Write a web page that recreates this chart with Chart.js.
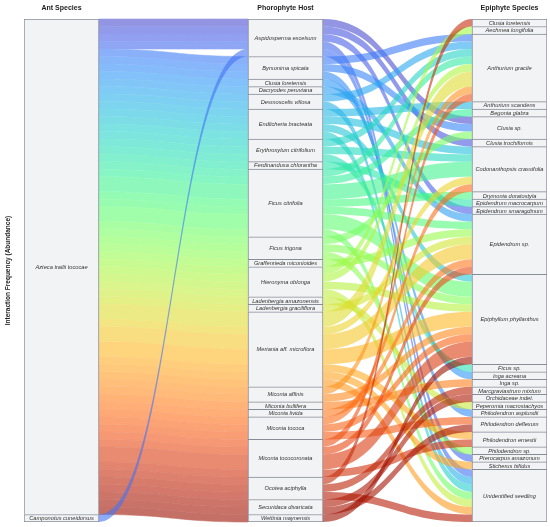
<!DOCTYPE html>
<html>
<head>
<meta charset="utf-8">
<script src="https://cdn.jsdelivr.net/npm/chart.js@4.4.1/dist/chart.umd.min.js"></script>
<style>
  html, body { margin: 0; padding: 0; background: #fff; }
  #wrap { width: 550px; height: 527px; }
</style>
</head>
<body>
<div id="wrap"><canvas id="chart"></canvas></div>
<script>
// Column titles
const columnTitles = ['Ant Species', 'Phorophyte Host', 'Epiphyte Species'];

// Strata, top to bottom
const antSpecies = ['Azteca trailii tococae', 'Camponotus cuneidorsus'];

const hostSpecies = [
  'Aspidosperma excelsum', 'Byrsonima spicata', 'Clusia loretensis', 'Dacryodes peruviana',
  'Desmoscelis villosa', 'Endlicheria bracteata', 'Erythroxylum citrifolium', 'Ferdinandusa chlorantha',
  'Ficus citrifolia', 'Ficus trigona', 'Graffenrieda miconioides', 'Hieronyma oblonga',
  'Ladenbergia amazonensis', 'Ladenbergia graciliflora', 'Meriania aff. microflora', 'Miconia affinis',
  'Miconia bullifera', 'Miconia livida', 'Miconia tococa', 'Miconia tococoronata',
  'Ocotea aciphylla', 'Securidaca divaricata', 'Wettinia maynensis'
];

const epiphyteSpecies = [
  'Clusia loretensis', 'Aechmea longifolia', 'Anthurium gracile', 'Anthurium scandens',
  'Begonia glabra', 'Clusia sp.', 'Clusia trochiformis', 'Codonanthopsis crassifolia',
  'Drymonia doratostyla', 'Epidendrum macrocarpum', 'Epidendrum smaragdinum', 'Epidendrum sp.',
  'Epiphyllum phyllanthus', 'Ficus sp.', 'Inga acreana', 'Inga sp.',
  'Marcgraviastrum mixtum', 'Orchidaceae indet.', 'Peperomia macrostachyos', 'Philodendron asplundii',
  'Philodendron deflexum', 'Philodendron ernestii', 'Philodendron sp.', 'Pterocarpus amazonum',
  'Sticherus bifidus', 'Unidentified seedling'
];

// Interactions: [ant, host, epiphyte, abundance]
const AZ = 'Azteca trailii tococae';
const CC = 'Camponotus cuneidorsus';
const alluvia = [
  [AZ, 'Aspidosperma excelsum', 'Clusia sp.', 1],
  [AZ, 'Aspidosperma excelsum', 'Clusia trochiformis', 1],
  [AZ, 'Aspidosperma excelsum', 'Epidendrum smaragdinum', 1],
  [AZ, 'Aspidosperma excelsum', 'Pterocarpus amazonum', 1],
  [CC, 'Aspidosperma excelsum', 'Unidentified seedling', 1],
  [AZ, 'Byrsonima spicata', 'Anthurium gracile', 1],
  [AZ, 'Byrsonima spicata', 'Clusia sp.', 1],
  [AZ, 'Byrsonima spicata', 'Philodendron asplundii', 1],
  [AZ, 'Clusia loretensis', 'Inga acreana', 1],
  [AZ, 'Dacryodes peruviana', 'Epidendrum sp.', 1],
  [AZ, 'Desmoscelis villosa', 'Anthurium gracile', 1],
  [AZ, 'Desmoscelis villosa', 'Unidentified seedling', 1],
  [AZ, 'Endlicheria bracteata', 'Anthurium scandens', 1],
  [AZ, 'Endlicheria bracteata', 'Codonanthopsis crassifolia', 1],
  [AZ, 'Endlicheria bracteata', 'Epiphyllum phyllanthus', 1],
  [AZ, 'Endlicheria bracteata', 'Unidentified seedling', 1],
  [AZ, 'Erythroxylum citrifolium', 'Anthurium gracile', 1],
  [AZ, 'Erythroxylum citrifolium', 'Codonanthopsis crassifolia', 1],
  [AZ, 'Erythroxylum citrifolium', 'Ficus sp.', 1],
  [AZ, 'Ferdinandusa chlorantha', 'Epidendrum macrocarpum', 1],
  [AZ, 'Ficus citrifolia', 'Anthurium gracile', 1],
  [AZ, 'Ficus citrifolia', 'Begonia glabra', 1],
  [AZ, 'Ficus citrifolia', 'Codonanthopsis crassifolia', 2],
  [AZ, 'Ficus citrifolia', 'Drymonia doratostyla', 1],
  [AZ, 'Ficus citrifolia', 'Epidendrum sp.', 1],
  [AZ, 'Ficus citrifolia', 'Epiphyllum phyllanthus', 2],
  [AZ, 'Ficus citrifolia', 'Unidentified seedling', 1],
  [AZ, 'Ficus trigona', 'Clusia sp.', 1],
  [AZ, 'Ficus trigona', 'Epiphyllum phyllanthus', 1],
  [AZ, 'Ficus trigona', 'Philodendron sp.', 1],
  [AZ, 'Graffenrieda miconioides', 'Epidendrum sp.', 1],
  [AZ, 'Hieronyma oblonga', 'Aechmea longifolia', 1],
  [AZ, 'Hieronyma oblonga', 'Anthurium gracile', 1],
  [AZ, 'Hieronyma oblonga', 'Epiphyllum phyllanthus', 1],
  [AZ, 'Hieronyma oblonga', 'Unidentified seedling', 1],
  [AZ, 'Ladenbergia amazonensis', 'Peperomia macrostachyos', 1],
  [AZ, 'Ladenbergia graciliflora', 'Epidendrum sp.', 1],
  [AZ, 'Meriania aff. microflora', 'Anthurium gracile', 2],
  [AZ, 'Meriania aff. microflora', 'Codonanthopsis crassifolia', 1],
  [AZ, 'Meriania aff. microflora', 'Epidendrum sp.', 2],
  [AZ, 'Meriania aff. microflora', 'Epiphyllum phyllanthus', 2],
  [AZ, 'Meriania aff. microflora', 'Philodendron ernestii', 1],
  [AZ, 'Meriania aff. microflora', 'Sticherus bifidus', 1],
  [AZ, 'Meriania aff. microflora', 'Unidentified seedling', 1],
  [AZ, 'Miconia affinis', 'Anthurium gracile', 1],
  [AZ, 'Miconia affinis', 'Epiphyllum phyllanthus', 1],
  [AZ, 'Miconia bullifera', 'Inga sp.', 1],
  [AZ, 'Miconia livida', 'Epidendrum sp.', 1],
  [AZ, 'Miconia tococa', 'Codonanthopsis crassifolia', 1],
  [AZ, 'Miconia tococa', 'Epiphyllum phyllanthus', 1],
  [AZ, 'Miconia tococa', 'Philodendron deflexum', 1],
  [AZ, 'Miconia tococoronata', 'Anthurium gracile', 1],
  [AZ, 'Miconia tococoronata', 'Epidendrum sp.', 1],
  [AZ, 'Miconia tococoronata', 'Epiphyllum phyllanthus', 2],
  [AZ, 'Miconia tococoronata', 'Philodendron ernestii', 1],
  [AZ, 'Ocotea aciphylla', 'Clusia loretensis', 1],
  [AZ, 'Ocotea aciphylla', 'Marcgraviastrum mixtum', 1],
  [AZ, 'Ocotea aciphylla', 'Unidentified seedling', 1],
  [AZ, 'Securidaca divaricata', 'Orchidaceae indet.', 1],
  [AZ, 'Securidaca divaricata', 'Philodendron deflexum', 1],
  [AZ, 'Wettinia maynensis', 'Epiphyllum phyllanthus', 1]
];

const axes = [antSpecies, hostSpecies, epiphyteSpecies];
const total = alluvia.reduce((sum, a) => sum + a[3], 0);
const boxWidth = 75;
const flowAlpha = 0.6;

// Turbo colour map
function turbo(t) {
  const r = 0.13572138 + t * (4.61539260 + t * (-42.66032258 + t * (132.13108234 + t * (-152.94239396 + t * 59.28637943))));
  const g = 0.09140261 + t * (2.19418839 + t * (4.84296658 + t * (-14.18503333 + t * (4.27729857 + t * 2.82956604))));
  const b = 0.10667330 + t * (12.64194608 + t * (-60.58204836 + t * (110.36276771 + t * (-89.90310912 + t * 27.34824973))));
  const c = v => Math.round(255 * Math.max(0, Math.min(1, v)));
  return [c(r), c(g), c(b)];
}

// Lode positions on each axis
const stratumIndex = (k, a) => axes[k].indexOf(a[k]);
const orderings = [[0, 1, 2], [1, 0, 2], [2, 1, 0]];
const lodes = alluvia.map(() => []);
orderings.forEach((ord, k) => {
  const sorted = alluvia.map((a, i) => i).sort((p, q) => {
    for (const j of ord) {
      const d = stratumIndex(j, alluvia[p]) - stratumIndex(j, alluvia[q]);
      if (d) return d;
    }
    return 0;
  });
  let acc = 0;
  sorted.forEach(i => {
    lodes[i][k] = [acc, acc + alluvia[i][3]];
    acc += alluvia[i][3];
  });
});

const flowRgb = alluvia.map((a, i) => {
  const mid = (lodes[i][1][0] + lodes[i][1][1]) / 2 / total;
  return turbo(0.08 + 0.87 * mid);
});
const flowColors = flowRgb.map(([r, g, b]) => `rgba(${r},${g},${b},${flowAlpha})`);
// same colour already blended on white, for the non-overlapping left flows
const flowSolid = flowRgb.map(rgb => {
  const [r, g, b] = rgb.map(v => Math.round(v * flowAlpha + 255 * (1 - flowAlpha)));
  return `rgb(${r},${g},${b})`;
});

// Boxes for every stratum
const boxes = [];
axes.forEach((names, k) => {
  let acc = 0;
  names.forEach((name, n) => {
    const size = alluvia.filter(a => a[k] === name).reduce((s, a) => s + a[3], 0);
    boxes.push({ x: k + 1, y: [acc, acc + size], name, last: n === names.length - 1 });
    acc += size;
  });
});

function ribbon(ctx, x0, x1, ya0, yb0, ya1, yb1) {
  const cx0 = x0 + (x1 - x0) * 0.5;
  const cx1 = x1 - (x1 - x0) * 0.5;
  ctx.beginPath();
  ctx.moveTo(x0, ya0);
  ctx.bezierCurveTo(cx0, ya0, cx1, ya1, x1, ya1);
  ctx.lineTo(x1, yb1);
  ctx.bezierCurveTo(cx1, yb1, cx0, yb0, x0, yb0);
  ctx.closePath();
}

// Flows
const flowPlugin = {
  id: 'flows',
  beforeDatasetsDraw(chart) {
    const { ctx, scales: { x, y } } = chart;
    const half = boxWidth / 2;
    const px = (k, i, e) => y.getPixelForValue(lodes[i][k][e]);
    ctx.save();

    // ant -> host
    let x0 = x.getPixelForValue(1) + half;
    let x1 = x.getPixelForValue(2) - half;
    const main = alluvia.map((a, i) => i).filter(i => alluvia[i][0] === antSpecies[0]);
    const other = alluvia.map((a, i) => i).filter(i => alluvia[i][0] !== antSpecies[0]);
    main.forEach(i => {
      ribbon(ctx, x0, x1, px(0, i, 0), px(0, i, 1), px(1, i, 0), px(1, i, 1));
      ctx.fillStyle = flowSolid[i];
      ctx.strokeStyle = flowSolid[i];
      ctx.lineWidth = 0.6;
      ctx.fill();
      ctx.stroke();
    });
    other.forEach(i => {
      ribbon(ctx, x0, x1, px(0, i, 0), px(0, i, 1), px(1, i, 0), px(1, i, 1));
      ctx.fillStyle = flowColors[i];
      ctx.fill();
    });

    // host -> epiphyte
    x0 = x.getPixelForValue(2) + half;
    x1 = x.getPixelForValue(3) - half;
    alluvia.forEach((a, i) => {
      ribbon(ctx, x0, x1, px(1, i, 0), px(1, i, 1), px(2, i, 0), px(2, i, 1));
      ctx.fillStyle = flowColors[i];
      ctx.fill();
    });
    ctx.restore();
  }
};

// Stratum labels
const labelPlugin = {
  id: 'boxLabels',
  afterDatasetsDraw(chart) {
    const { ctx, scales: { x, y } } = chart;
    ctx.save();
    ctx.font = 'italic 5.7px "Liberation Sans", Arial, sans-serif';
    ctx.fillStyle = '#333';
    ctx.textAlign = 'center';
    ctx.textBaseline = 'middle';
    boxes.forEach(b => {
      const cy = (y.getPixelForValue(b.y[0]) + y.getPixelForValue(b.y[1])) / 2;
      ctx.fillText(b.name, x.getPixelForValue(b.x), cy + 0.5);
    });
    ctx.restore();
  }
};

const ctx = document.getElementById('chart').getContext('2d');
const edge = 0.1674;

new Chart(ctx, {
  type: 'bar',
  data: {
    datasets: [{
      data: boxes,
      backgroundColor: '#f2f3f5',
      borderColor: '#878c97',
      borderWidth: c => ({ top: 1, left: 1, right: 1, bottom: c.raw && c.raw.last ? 1 : 0 }),
      borderSkipped: false,
      barThickness: boxWidth,
      grouped: false
    }]
  },
  options: {
    responsive: true,
    maintainAspectRatio: false,
    animation: false,
    layout: { padding: { left: 0, right: 3, top: 0, bottom: 5 } },
    plugins: {
      legend: { display: false },
      tooltip: { enabled: false }
    },
    scales: {
      x: {
        type: 'linear',
        position: 'top',
        min: 1 - edge,
        max: 3 + edge,
        offset: false,
        grid: { display: false, drawTicks: false },
        border: { display: false },
        afterBuildTicks: axis => { axis.ticks = [1, 2, 3].map(v => ({ value: v })); },
        afterFit: axis => { axis.height = 19; },
        ticks: {
          autoSkip: false,
          maxRotation: 0,
          padding: 7,
          color: '#222',
          font: { family: '"Liberation Sans", Arial, sans-serif', size: 7, weight: 'bold' },
          callback: v => columnTitles[v - 1]
        }
      },
      y: {
        type: 'linear',
        reverse: true,
        min: 0,
        max: total,
        grid: { display: false, drawTicks: false },
        border: { display: false },
        ticks: { display: false },
        afterFit: axis => { axis.width = 24; },
        title: {
          display: true,
          text: 'Interaction Frequency (Abundance)',
          color: '#222',
          padding: { top: 4, bottom: 4 },
          font: { family: '"Liberation Sans", Arial, sans-serif', size: 6.5, weight: 'bold' }
        }
      }
    }
  },
  plugins: [flowPlugin, labelPlugin]
});
</script>
</body>
</html>
